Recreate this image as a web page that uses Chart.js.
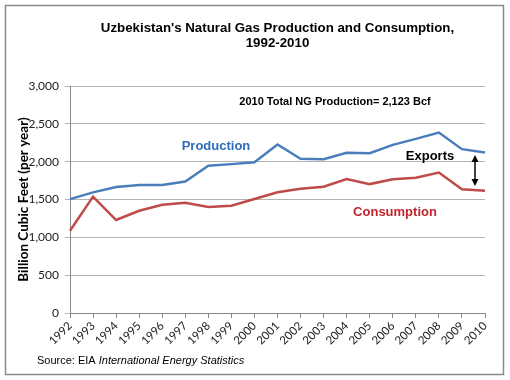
<!DOCTYPE html>
<html><head><meta charset="utf-8">
<script src="https://cdn.jsdelivr.net/npm/chart.js@4/dist/chart.umd.min.js"></script>
<style>html,body{margin:0;padding:0;background:#fff}#wrap{width:510px;height:380px;position:relative}</style>
</head><body><div id="wrap"><canvas id="c" width="510" height="380"></canvas></div>
<script>
const years = ['1992','1993','1994','1995','1996','1997','1998','1999','2000','2001','2002','2003','2004','2005','2006','2007','2008','2009','2010'];
const production = [1505,1595,1666,1693,1693,1737,1947,1968,1992,2227,2038,2032,2118,2112,2222,2302,2386,2166,2123];
const consumption = [1088,1538,1229,1352,1432,1458,1402,1419,1507,1595,1643,1670,1772,1704,1769,1787,1856,1637,1615];
const yTickValues = [0,500,1000,1500,2000,2500,3000];
const titleLines = ["Uzbekistan's Natural Gas Production and Consumption,", "1992-2010"];
const yAxisTitle = 'Billion Cubic Feet (per year)';
const noteText = '2010 Total NG Production= 2,123 Bcf';
const seriesLabels = ['Production', 'Consumption'];
const exportsLabel = 'Exports';

const decor = {
  id: 'decor',
  beforeDraw(chart) {
    const ctx = chart.ctx;
    ctx.save();
    ctx.fillStyle = '#fff';
    ctx.fillRect(0, 0, chart.width, chart.height);
    ctx.restore();
  },
  afterDraw(chart) {
    const ctx = chart.ctx;
    ctx.save();
    // frame
    ctx.strokeStyle = '#8a8a8a';
    ctx.lineWidth = 1.5;
    ctx.strokeRect(5.5, 5.5, 498, 369);
    // annotations
    ctx.textBaseline = 'middle';
    ctx.textAlign = 'center';
    ctx.fillStyle = '#000';
    ctx.font = 'bold 11px "Liberation Sans", Arial, sans-serif';
    ctx.fillText(noteText, 335, 102);
    ctx.font = 'bold 13px "Liberation Sans", Arial, sans-serif';
    ctx.fillStyle = '#2F6EBA';
    ctx.fillText(seriesLabels[0], 216, 146);
    ctx.fillStyle = '#000';
    ctx.fillText(exportsLabel, 430, 156);
    ctx.fillStyle = '#C0262C';
    ctx.fillText(seriesLabels[1], 395, 212);
    // source
    ctx.textAlign = 'left';
    ctx.fillStyle = '#000';
    ctx.font = '11px "Liberation Sans", Arial, sans-serif';
    const s1 = 'Source: EIA ';
    ctx.fillText(s1, 37, 361);
    const w1 = ctx.measureText(s1).width;
    ctx.font = 'italic 11px "Liberation Sans", Arial, sans-serif';
    ctx.fillText('International Energy Statistics', 37 + w1, 361);
    // double arrow
    const ax = 475, y1 = 155, y2 = 186;
    ctx.strokeStyle = '#000';
    ctx.fillStyle = '#000';
    ctx.lineWidth = 1.5;
    ctx.beginPath();
    ctx.moveTo(ax, y1 + 4); ctx.lineTo(ax, y2 - 4); ctx.stroke();
    ctx.beginPath();
    ctx.moveTo(ax, y1); ctx.lineTo(ax - 3.5, y1 + 7); ctx.lineTo(ax + 3.5, y1 + 7); ctx.closePath(); ctx.fill();
    ctx.beginPath();
    ctx.moveTo(ax, y2); ctx.lineTo(ax - 3.5, y2 - 7); ctx.lineTo(ax + 3.5, y2 - 7); ctx.closePath(); ctx.fill();
    ctx.restore();
  }
};

new Chart(document.getElementById('c'), {
  type: 'line',
  data: {
    labels: years,
    datasets: [
      { label: seriesLabels[0], data: production, borderColor: '#4A7EBB', backgroundColor: '#4A7EBB', borderWidth: 2.5, pointRadius: 0, tension: 0, fill: false },
      { label: seriesLabels[1], data: consumption, borderColor: '#BE4B48', backgroundColor: '#BE4B48', borderWidth: 2.5, pointRadius: 0, tension: 0, fill: false }
    ]
  },
  options: {
    responsive: false,
    animation: false,
    devicePixelRatio: 1,
    layout: { padding: { left: 8, right: 25, top: 0, bottom: 22 } },
    plugins: {
      legend: { display: false },
      tooltip: { enabled: false },
      title: {
        display: true,
        fullSize: false,
        text: titleLines,
        color: '#000',
        font: { family: '"Liberation Sans", Arial, sans-serif', size: 13.3, weight: 'bold', lineHeight: 1.13 },
        padding: { top: 20.5, bottom: 35.5 }
      }
    },
    scales: {
      x: {
        offset: false,
        grid: { display: true, drawOnChartArea: false, drawTicks: true, tickLength: 5, color: '#888' },
        border: { color: '#888' },
        ticks: { color: '#222', font: { family: 'Lato, sans-serif', size: 11.5 }, maxRotation: 45, minRotation: 45, autoSkip: false, padding: 1 },
        afterFit(scale) { scale.height = 45; }
      },
      y: {
        min: 0, max: 3000,
        afterBuildTicks(scale) { scale.ticks = yTickValues.map(v => ({ value: v })); },
        grid: { color: '#b3b3b3', drawTicks: true, tickLength: 5 },
        border: { color: '#888' },
        ticks: { color: '#222', font: { family: 'Lato, sans-serif', size: 12 }, padding: 6, callback: v => v.toLocaleString('en-US') },
        title: { display: true, text: yAxisTitle, color: '#000', font: { family: 'Lato, sans-serif', size: 13.5, weight: 'bold' }, padding: { top: 8, bottom: 0 } },
        afterFit(scale) { scale.width = 62; }
      }
    }
  },
  plugins: [decor]
});
</script>
</body></html>
